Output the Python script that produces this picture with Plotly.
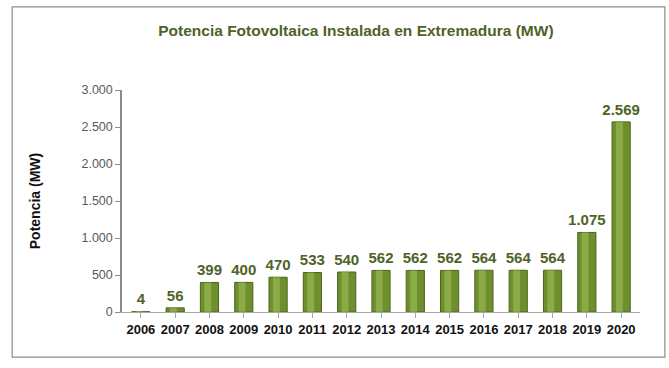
import plotly.graph_objects as go

years = ["2006", "2007", "2008", "2009", "2010", "2011", "2012", "2013",
         "2014", "2015", "2016", "2017", "2018", "2019", "2020"]
potencia_mw = [4, 56, 399, 400, 470, 533, 540, 562, 562, 562, 564, 564, 564, 1075, 2569]
y_ticks = [0, 500, 1000, 1500, 2000, 2500, 3000]

fig = go.Figure()
fig.add_trace(go.Bar(
    x=years, y=potencia_mw, width=0.53,
    marker=dict(color="#6f8f2e", line=dict(color="#4a6419", width=1)),
    hoverinfo="skip", showlegend=False,
))
fig.add_trace(go.Bar(
    x=years, y=potencia_mw, width=0.2, offset=-0.15,
    marker=dict(color="#a3c35c", line=dict(width=0), opacity=0.55),
    hoverinfo="skip", showlegend=False,
))
fig.add_trace(go.Scatter(
    x=years, y=potencia_mw, mode="markers+text",
    marker=dict(size=4, color="rgba(0,0,0,0)"),
    text=[f"{v:,}".replace(",", ".") for v in potencia_mw],
    textposition="top center",
    textfont=dict(family="Liberation Sans, Arial", size=15, color="#4f6228"),
    texttemplate="<b>%{text}</b>",
    cliponaxis=False, hoverinfo="skip", showlegend=False,
))

fig.update_layout(
    width=669, height=368,
    paper_bgcolor="white", plot_bgcolor="white",
    separators=",.",
    barmode="overlay",
    margin=dict(l=122, r=29, t=90, b=56, autoexpand=False),
    title=dict(text="<b>Potencia Fotovoltaica Instalada en Extremadura (MW)</b>",
               x=0.532, xanchor="center", y=0.918, yanchor="middle", automargin=False,
               font=dict(family="Liberation Sans, Arial", size=15.5, color="#4f6228")),
    font=dict(family="Liberation Sans, Arial"),
    shapes=[dict(type="rect", xref="paper", yref="paper", x0=-0.212, x1=1.048, y0=-0.203, y1=1.374,
                 line=dict(color="#8c8c8c", width=1.2), fillcolor="rgba(0,0,0,0)", layer="below")],
)
fig.update_xaxes(
    type="category", showline=True, linecolor="#a6a6a6", linewidth=1,
    ticks="outside", ticklen=5, tickcolor="#a6a6a6", automargin=False,
    tickfont=dict(size=13, color="#111111", family="Liberation Sans, Arial"),
    tickprefix="<b>", ticksuffix="</b>", range=[-0.55, 14.55],
)
fig.update_yaxes(
    range=[0, 3000], tickvals=y_ticks, tickformat=",d", automargin=False,
    showline=True, linecolor="#8c8c8c", linewidth=1.5,
    ticks="outside", ticklen=5, tickcolor="#8c8c8c",
    showgrid=False, zeroline=False,
    tickfont=dict(size=12.5, color="#595959", family="Liberation Sans, Arial"),
    title=dict(text="<b>Potencia (MW)</b>", standoff=38,
               font=dict(size=14, color="#111111", family="Liberation Sans, Arial")),
)

fig.write_html("out.html", config={"displayModeBar": False},
               post_script="document.body.style.margin='0';")
